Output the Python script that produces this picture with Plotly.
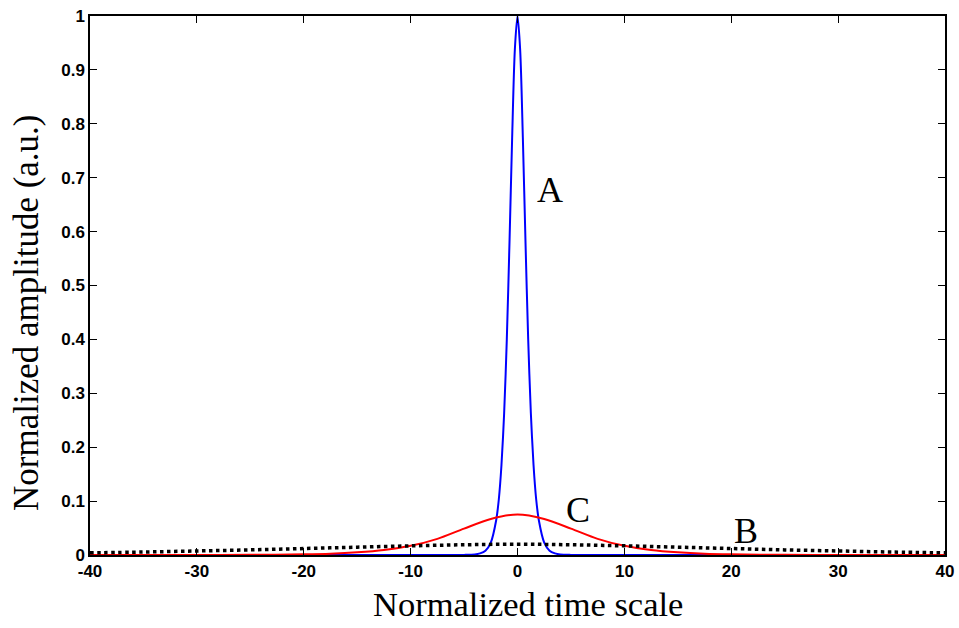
import plotly.graph_objects as go

# Curve A (narrow pulse)
xa = [-40, -10, -6, -5, -4, -3.5, -3, -2.5, -2, -1.75, -1.5, -1.25, -1, -0.75, -0.5, -0.25, 0,
      0.25, 0.5, 0.75, 1, 1.25, 1.5, 1.75, 2, 2.5, 3, 3.5, 4, 5, 6, 10, 40]
ya = [0, 0, 0, 0.0002, 0.001, 0.003, 0.008, 0.023, 0.064, 0.103, 0.167, 0.263, 0.40, 0.579, 0.775, 0.937, 1.0,
      0.937, 0.775, 0.579, 0.40, 0.263, 0.167, 0.103, 0.064, 0.023, 0.008, 0.003, 0.001, 0.0002, 0, 0, 0]

# Curve C (broadened pulse)
xc = [-40, -30, -25, -20, -17.5, -15, -12.5, -10, -7.5, -5, -2.5, 0, 2.5, 5, 7.5, 10, 12.5, 15, 17.5, 20, 25, 30, 40]
yc = [0, 0.0001, 0.0003, 0.0013, 0.0024, 0.0049, 0.0092, 0.017, 0.030, 0.049, 0.0668, 0.075,
      0.0668, 0.049, 0.030, 0.017, 0.0092, 0.0049, 0.0024, 0.0013, 0.0003, 0.0001, 0]

# Curve B (dotted, very broad)
xb = [-40, -35, -30, -25, -20, -15, -10, -5, 0, 5, 10, 15, 20, 25, 30, 35, 40]
yb = [0.004, 0.0055, 0.0075, 0.0095, 0.012, 0.0145, 0.017, 0.019, 0.020,
      0.019, 0.017, 0.0145, 0.012, 0.0095, 0.0075, 0.0055, 0.004]

x_ticks = [-40, -30, -20, -10, 0, 10, 20, 30, 40]
y_ticks = [0, 0.1, 0.2, 0.3, 0.4, 0.5, 0.6, 0.7, 0.8, 0.9, 1]
y_tick_text = ["0", "0.1", "0.2", "0.3", "0.4", "0.5", "0.6", "0.7", "0.8", "0.9", "1"]

labels = ["A", "C", "B"]
label_x = [3.0, 5.7, 21.4]
label_y = [0.678, 0.083, 0.045]

x_title = "Normalized time scale"
y_title = "Normalized amplitude (a.u.)"

# plot area in pixels
L, R, T, B = 90, 945, 16, 555
W, H = 959, 628

fig = go.Figure()
fig.add_trace(go.Scatter(x=xa, y=ya, mode="lines", line=dict(color="#0000ff", width=2, shape="spline", smoothing=0.8),
                         showlegend=False))
fig.add_trace(go.Scatter(x=xc, y=yc, mode="lines", line=dict(color="#ff0000", width=2, shape="spline", smoothing=0.8),
                         showlegend=False))
fig.add_trace(go.Scatter(x=xb, y=yb, mode="lines", line=dict(color="#000000", width=3.5, dash="3.5px,3.5px", shape="spline"),
                         showlegend=False))

for t, lx, ly in zip(labels, label_x, label_y):
    fig.add_annotation(x=lx, y=ly, text=t, showarrow=False,
                       font=dict(family="Liberation Serif", size=36, color="black"))

# axis titles as paper annotations for precise placement
fig.add_annotation(xref="paper", yref="paper", x=(527.5 - L) / (R - L), y=(B - 604) / (B - T),
                   text=x_title, showarrow=False, xanchor="center", yanchor="middle",
                   font=dict(family="Liberation Serif", size=34.5, color="black"))
fig.add_annotation(xref="paper", yref="paper", x=(27 - L) / (R - L), y=(B - 313) / (B - T),
                   text=y_title, showarrow=False, textangle=-90, xanchor="center", yanchor="middle",
                   font=dict(family="Liberation Serif", size=35, color="black"))

axis_common = dict(showline=True, linecolor="black", linewidth=1.5, mirror="ticks",
                   ticks="inside", ticklen=7, tickwidth=1, tickcolor="black",
                   showgrid=False, zeroline=False,
                   tickfont=dict(family="Liberation Sans", size=17, color="black", weight="bold"))

fig.update_xaxes(range=[-40, 40], tickvals=x_ticks, ticktext=[str(v) for v in x_ticks], **axis_common)
fig.update_yaxes(range=[0, 1], tickvals=y_ticks, ticktext=y_tick_text, **axis_common)

fig.update_layout(width=W, height=H, margin=dict(l=L, r=W - R, t=T, b=H - B, autoexpand=False),
                  paper_bgcolor="white", plot_bgcolor="white")

fig.write_html("out.html")
